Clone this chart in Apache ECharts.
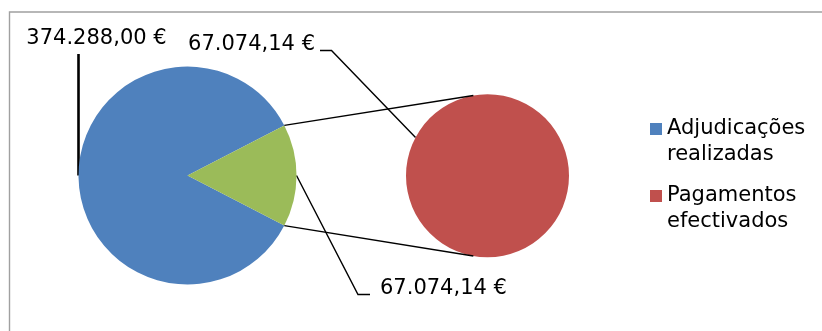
<!DOCTYPE html>
<html>
<head>
<meta charset="utf-8">
<script src="https://cdn.jsdelivr.net/npm/echarts@6/dist/echarts.min.js"></script>
<style>
  html, body { margin: 0; padding: 0; background: #fff; }
  #chart { width: 822px; height: 331px; }
</style>
</head>
<body>
<div id="chart"></div>
<script>
// Values (EUR)
const categories = ['Adjudicações realizadas', 'Pagamentos efectivados'];
const legendLabels = ['Adjudicações\nrealizadas', 'Pagamentos\nefectivados'];
const adjudicacoes = [374288.00];
const pagamentos = [67074.14];

// Layout
const FONT = 'DejaVu Sans';
const mainCenter = [187.5, 175.5];
const mainR = 109;
const subCenter = [487.5, 175.7];
const subR = 81.5;
const colors = { blue: '#4F81BD', green: '#9BBB59', red: '#C0504D' };

function euro(v) {
  const parts = v.toFixed(2).split('.');
  return parts[0].replace(/\B(?=(\d{3})+(?!\d))/g, '.') + ',' + parts[1] + ' €';
}

const otherTotal = pagamentos.reduce((a, b) => a + b, 0);
const mainTotal = adjudicacoes[0] + otherTotal;
// half-angle of the "other" wedge, centred on the right side of the main pie
const half = 180 * otherTotal / mainTotal;

function polar(c, r, deg) {
  const a = deg * Math.PI / 180;
  return [c[0] + r * Math.cos(a), c[1] - r * Math.sin(a)];
}

const wedgeTop = polar(mainCenter, mainR, half);
const wedgeBot = polar(mainCenter, mainR, -half);
const subTop = polar(subCenter, subR, 100);
const subBot = polar(subCenter, subR, -100);
const mainLeft = polar(mainCenter, mainR, 180);
const mainRight = polar(mainCenter, mainR, 0);
const subLeftHit = polar(subCenter, subR, 152);

const labelFont = { fontFamily: FONT, fontSize: 21, color: '#000' };

const chart = echarts.init(document.getElementById('chart'), null, { renderer: 'canvas' });

chart.setOption({
  animation: false,
  backgroundColor: '#fff',
  legend: {
    orient: 'vertical',
    left: 650,
    top: 90,
    padding: 0,
    itemGap: -11,
    itemWidth: 12,
    itemHeight: 12,
    icon: 'rect',
    data: [
      { name: categories[0], itemStyle: { color: colors.blue } },
      { name: categories[1], itemStyle: { color: colors.red } }
    ],
    // leading empty line keeps the first text line level with the swatch
    formatter: function (name) { return '\n' + legendLabels[categories.indexOf(name)]; },
    textStyle: { fontFamily: FONT, fontSize: 21, color: '#000', lineHeight: 26 }
  },
  graphic: [
    { type: 'rect', shape: { x: 9.5, y: 12, width: 900, height: 400 },
      style: { fill: 'none', stroke: '#a0a0a0', lineWidth: 1.4 }, silent: true, z: 0 },
    { type: 'line', shape: { x1: wedgeTop[0], y1: wedgeTop[1], x2: subTop[0], y2: subTop[1] },
      style: { stroke: '#000', lineWidth: 1.4 }, z: 10 },
    { type: 'line', shape: { x1: wedgeBot[0], y1: wedgeBot[1], x2: subBot[0], y2: subBot[1] },
      style: { stroke: '#000', lineWidth: 1.4 }, z: 10 }
  ],
  series: [
    {
      type: 'pie',
      name: 'main',
      center: mainCenter,
      radius: [0, mainR],
      startAngle: -half,
      clockwise: true,
      avoidLabelOverlap: false,
      data: [
        { name: categories[0], value: adjudicacoes[0], itemStyle: { color: colors.blue },
          labelLine: { lineStyle: { width: 2.6 } } },
        { name: 'Outros', value: otherTotal, itemStyle: { color: colors.green },
          labelLine: { lineStyle: { width: 1.4 } } }
      ],
      label: {
        show: true,
        position: 'outside',
        formatter: function (p) { return euro(p.value); },
        ...labelFont
      },
      labelLine: { show: true, lineStyle: { color: '#000' } },
      labelLayout: function (p) {
        if (p.dataIndex === 0) {
          return {
            x: 96.5, y: 39, align: 'center', verticalAlign: 'middle',
            labelLinePoints: [[mainLeft[0], 54], [mainLeft[0], 54], mainLeft]
          };
        }
        return {
          x: 380, y: 289, align: 'left', verticalAlign: 'middle',
          labelLinePoints: [mainRight, [358, 294.5], [370, 294.5]]
        };
      },
      emphasis: { disabled: true }
    },
    {
      type: 'pie',
      name: 'sub',
      center: subCenter,
      radius: [0, subR],
      avoidLabelOverlap: false,
      data: [
        { name: categories[1], value: pagamentos[0], itemStyle: { color: colors.red } }
      ],
      label: {
        show: true,
        position: 'outside',
        formatter: function (p) { return euro(p.value); },
        ...labelFont
      },
      labelLine: { show: true, lineStyle: { color: '#000', width: 1.4 } },
      labelLayout: function () {
        return {
          x: 315, y: 45, align: 'right', verticalAlign: 'middle',
          labelLinePoints: [[320, 50.5], [331.5, 50.5], subLeftHit]
        };
      },
      emphasis: { disabled: true }
    }
  ]
});
</script>
</body>
</html>
